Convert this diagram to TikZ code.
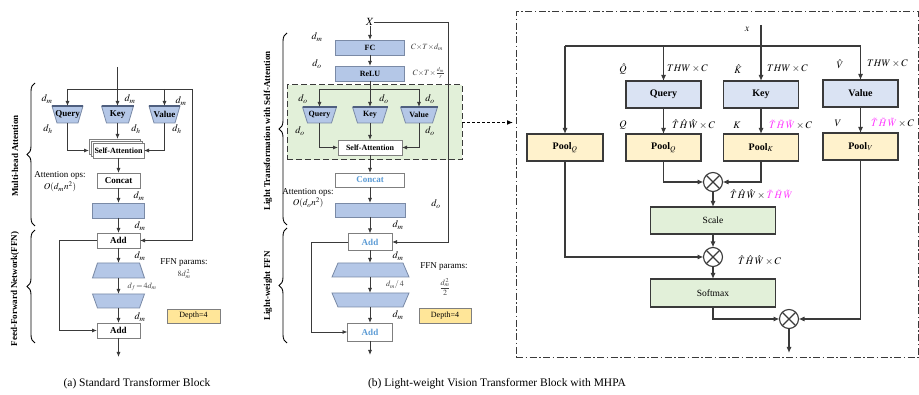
\documentclass[tikz,border=0pt]{standalone}
\usepackage{mathptmx}
\usepackage{fontspec}
\setmainfont{Liberation Serif}
\usetikzlibrary{arrows.meta,calc,decorations.pathreplacing}

\definecolor{lc}{HTML}{3A3A3A}
\definecolor{bluefill}{HTML}{B4C7E7}
\definecolor{blueedge}{HTML}{7A8AA6}
\definecolor{bluetop}{HTML}{4F5F7F}
\definecolor{lav}{HTML}{DAE3F3}
\definecolor{poolfill}{HTML}{FFF2CC}
\definecolor{greenfill}{HTML}{E2F0D9}
\definecolor{depthfill}{HTML}{FFE699}
\definecolor{txtblue}{HTML}{5B9BD5}
\definecolor{mag}{HTML}{FF33FF}
\definecolor{boxedge}{HTML}{7F7F7F}
\definecolor{txtgray}{HTML}{3F3F3F}

% trapezoid narrowing downwards (name, inset)
\newcommand\trapnar[2]{%
  \filldraw[bluebox] (#1.north west) -- (#1.north east) -- ([xshift=-#2pt]#1.south east) -- ([xshift=#2pt]#1.south west) -- cycle;}
% trapezoid widening downwards (name, inset)
\newcommand\trapwid[2]{%
  \filldraw[bluebox] ([xshift=#2pt]#1.north west) -- ([xshift=-#2pt]#1.north east) -- (#1.south east) -- (#1.south west) -- cycle;}
% darker top edge of a projection head
\newcommand\traptop[1]{\draw[bluetop, line width=1.3pt] (#1.north west) -- (#1.north east);}
% pooled / unpooled token grids
\newcommand\hatTHW{\hat{T}\mkern2mu\hat{H}\mkern2mu\hat{W}}
\newcommand\tilTHW{\textcolor{mag}{\tilde{T}\mkern2mu\tilde{H}\mkern2mu\tilde{W}}}

\begin{document}
\begin{tikzpicture}[x=1pt, y=-1pt,
  every node/.style={inner sep=0pt, outer sep=0pt},
  sz/.style 2 args={minimum width=#1pt, minimum height=#2pt},
  ln/.style={draw=lc, line width=0.8pt},
  arr/.style={ln, -{Latex[length=5pt, width=4pt]}},
  ln2/.style={draw=lc, line width=1.1pt},
  arr2/.style={ln2, -{Latex[length=6pt, width=5pt]}},
  wbox/.style={draw=boxedge, fill=white, line width=0.9pt},
  bluebox/.style={draw=blueedge, fill=bluefill, line width=0.8pt},
  depthbox/.style={draw=boxedge, fill=depthfill, line width=0.8pt, font=\fontsize{8}{9}\selectfont},
  greenbox/.style={draw=lc, fill=greenfill, line width=1pt, dash pattern=on 6pt off 3pt},
  framebox/.style={draw=lc, line width=1pt, dash pattern=on 7pt off 2.5pt on 1.5pt off 2.5pt},
  qkv/.style={draw=lc, fill=lav, line width=1.1pt, font=\fontsize{10}{11}\selectfont\bfseries},
  pool/.style={draw=lc, fill=poolfill, line width=1.1pt, font=\fontsize{10}{11}\selectfont\bfseries},
  gbox/.style={draw=lc, fill=greenfill, line width=1.1pt, font=\fontsize{9.5}{11}\selectfont},
  mult/.style={circle, draw=lc, line width=1.1pt, minimum size=19pt,
    path picture={\draw[lc, line width=1.1pt]
      (path picture bounding box.north west) -- (path picture bounding box.south east)
      (path picture bounding box.south west) -- (path picture bounding box.north east);}},
  bl9/.style={font=\fontsize{9}{10}\selectfont\bfseries},
  bl8/.style={font=\fontsize{8}{9}\selectfont\bfseries},
  mlab/.style={font=\fontsize{10}{11}\selectfont},
  slab/.style={font=\fontsize{8}{9}\selectfont, text=txtgray},
  plain9/.style={font=\fontsize{9}{10}\selectfont},
  captxt/.style={font=\fontsize{11.5}{13}\selectfont},
  brc/.style={draw=black, line width=0.9pt, decorate, decoration={brace, amplitude=8pt}},
]
\useasboundingbox (0,0) rectangle (919,395);

% =============== (a) standard transformer block ===============
\coordinate (ain) at (117.5,67);
\coordinate (asplL) at (67.5,89);
\coordinate (asplR) at (192,89);
\node[sz={31}{17}] (aq) at (67.5,114.5) {};
\node[sz={32}{17}] (ak) at (117.5,114.5) {};
\node[sz={31}{17}] (av) at (164.5,114.5) {};
\trapnar{aq}{5}\traptop{aq}
\trapnar{ak}{5}\traptop{ak}
\trapnar{av}{5}\traptop{av}
\node[bl9] (aqt) at (aq) {Query};
\node[bl9] (akt) at (ak) {Key};
\node[bl9] (avt) at (av) {Value};

\node[wbox, sz={51}{15}] (asaB) at (114.5,146.5) {};
\node[wbox, sz={51}{15}] (asaM) at (116.5,148.5) {};
\node[wbox, sz={51}{15}, bl8] (asa) at (118.5,150.5) {Self-Attention};
\node[wbox, sz={43}{15}, bl9] (ac) at (118.5,180.5) {Concat};
\node[bluebox, sz={52}{15}] (al) at (118.5,210.5) {};
\node[wbox, sz={43}{15}, bl9] (aa1) at (118.5,240.5) {Add};
\node[sz={52}{15}] (af1) at (118.5,270.5) {};
\trapwid{af1}{5}
\node[sz={52}{14}] (af2) at (118.5,301) {};
\trapnar{af2}{5}
\node[wbox, sz={43}{15}, bl9] (aa2) at (118.5,330.5) {Add};
\coordinate (aout) at (118.5,357);
\coordinate (aloop) at (59,240.5);

\draw[ln] (asplL) -- (asplR);
\draw[arr] (ain) -- (ak.north);
\draw[arr] (asplL) -- (aq.north);
\draw[arr] (av.north |- asplL) -- (av.north);
\draw[arr] (asplR) |- (aa1.east);
\draw[arr] (aq.south) |- (asa.west -| asaB.west);
\draw[arr] (av.south) |- (asa.east);
\draw[arr] (ak.south) -- (asaB.north -| ak.south);
\draw[arr] (asa.south) -- (ac.north);
\draw[arr] (ac.south) -- (al.north);
\draw[arr] (al.south) -- (aa1.north);
\draw[arr] (aa1.south) -- (af1.north);
\draw[arr] (af1.south) -- (af2.north);
\draw[arr] (af2.south) -- (aa2.north);
\draw[arr] (aa2.south) -- (aout);
\draw[arr] (aa1.west) -- (aloop) |- (aa2.west);

\node[mlab] (la1) at (47,99) {$d_m$};
\node[mlab] (la2) at (130,99) {$d_m$};
\node[mlab] (la3) at (181,101) {$d_m$};
\node[mlab] (la4) at (48,129) {$d_h$};
\node[mlab] (la5) at (136,129) {$d_h$};
\node[mlab] (la6) at (177,129) {$d_h$};
\node[plain9] (la7) at (60,175) {Attention ops:};
\node[plain9] (la8) at (60,187) {$O(d_m n^2)$};
\node[mlab] (la9) at (139,196) {$d_m$};
\node[mlab] (la10) at (140,226) {$d_m$};
\node[mlab] (la11) at (140,256) {$d_m$};
\node[slab] (la12) at (142,287) {$d_f\!=\!4d_m$};
\node[mlab] (la13) at (140,317) {$d_m$};
\node[plain9] (la14) at (184,263) {FFN params:};
\node[slab] (la15) at (184,274) {$8d_m^{\,2}$};
\node[depthbox, sz={53}{14}] (adep) at (193.5,316) {Depth=4};

\draw[brc] (35,226) -- (35,83);
\draw[brc] (35,343) -- (35,230);
\node[bl9, rotate=90] (lma) at (15,156) {Multi-head Attention};
\node[bl9, rotate=90] (lffn) at (15,289) {Feed-Forward Network(FFN)};

% =============== (b) light-weight block ===============
\node[greenbox, sz={175}{75}] (bgrn) at (374.5,122.5) {};
\node[framebox, sz={402}{346}] (cfr) at (717,185) {};

\node[font=\fontsize{11}{12}\selectfont] (bx) at (370,22) {$X$};
\coordinate (bres) at (448,22);
\node[bluebox, sz={69}{15}, bl8] (bfc) at (370,47.5) {FC};
\node[bluebox, sz={69}{15}, bl8] (brl) at (370,73.5) {ReLU};
\coordinate (bsplL) at (319.5,89);
\coordinate (bsplR) at (419,89);
\node[sz={34}{16}] (bq) at (319.5,115) {};
\node[sz={35}{16}] (bk) at (370,115) {};
\node[sz={37}{16}] (bv) at (419,115) {};
\trapnar{bq}{5}\traptop{bq}
\trapnar{bk}{5}\traptop{bk}
\trapnar{bv}{5}\traptop{bv}
\node[bl8] (bqt) at (bq) {Query};
\node[bl8] (bkt) at (bk) {Key};
\node[bl8] (bvt) at (bv) {Value};
\node[wbox, sz={64}{15}, bl8] (bsa) at (370,147.5) {Self-Attention};
\node[wbox, sz={69}{14}, bl9, text=txtblue] (bcc) at (370,180) {Concat};
\node[bluebox, sz={70}{14}] (bl) at (370,210) {};
\node[wbox, sz={44}{17}, bl9, text=txtblue] (ba1) at (370,242) {Add};
\node[sz={77}{14}] (bf1) at (370.5,270) {};
\trapwid{bf1}{6}
\node[sz={77}{14}] (bf2) at (370.5,300) {};
\trapnar{bf2}{6}
\node[wbox, sz={45}{18}, bl9, text=txtblue] (ba2) at (370,332) {Add};
\coordinate (bout) at (370,355);
\coordinate (bloop) at (311,242);

\draw[arr] (bx.south) -- (bfc.north);
\draw[ln] (bx.east) -- (bres);
\draw[arr] (bres) |- (ba1.east);
\draw[arr] (bfc.south) -- (brl.north);
\draw[ln] (bsplL) -- (bsplR);
\draw[arr] (brl.south) -- (bk.north);
\draw[arr] (bsplL) -- (bq.north);
\draw[arr] (bsplR) -- (bv.north);
\draw[arr] (bq.south) |- (bsa.west);
\draw[arr] (bv.south) |- (bsa.east);
\draw[arr] (bk.south) -- (bsa.north);
\draw[arr] (bsa.south) -- (bcc.north);
\draw[arr] (bcc.south) -- (bl.north);
\draw[arr] (bl.south) -- (ba1.north);
\draw[arr] (ba1.south) -- (bf1.north -| ba1.south);
\draw[arr] (bf1.south -| ba1.south) -- (bf2.north -| ba1.south);
\draw[arr] (bf2.south -| ba2.north) -- (ba2.north);
\draw[arr] (ba2.south) -- (bout);
\draw[arr] (ba1.west) -- (bloop) |- (ba2.west);

\node[mlab] (lb1) at (317,37) {$d_m$};
\node[mlab] (lb2) at (317,64) {$d_o$};
\node[slab] (lb3) at (427,47) {$C{\times}T{\times}d_m$};
\node[slab] (lb4) at (429,73) {$C{\times}T{\times}\frac{d_m}{r}$};
\node[mlab] (lb5) at (303,99) {$d_o$};
\node[mlab] (lb6) at (384,99) {$d_o$};
\node[mlab] (lb7) at (430,99) {$d_o$};
\node[mlab] (lb8) at (300,131) {$d_o$};
\node[mlab] (lb9) at (430,131) {$d_o$};
\node[plain9] (lb10) at (308,192) {Attention ops:};
\node[plain9] (lb11) at (308,203) {$O(d_o n^2)$};
\node[mlab] (lb12) at (436,204) {$d_o$};
\node[mlab] (lb13) at (398,225) {$d_m$};
\node[mlab] (lb14) at (398,256) {$d_m$};
\node[slab] (lb15) at (395,285) {$d_m/\,4$};
\node[mlab] (lb16) at (398,315) {$d_m$};
\node[plain9] (lb17) at (444,267) {FFN params:};
\node[slab] (lb18) at (445,287) {$\displaystyle\frac{d_m^{\,2}}{2}$};
\node[depthbox, sz={52}{15}] (bdep) at (445,315.5) {Depth=4};

\draw[brc] (287,225) -- (287,33);
\draw[brc] (287,343) -- (287,228);
\node[bl9, rotate=90] (llt) at (268,131) {Light Transformation with Self-Attention};
\node[bl9, rotate=90] (llf) at (268,286) {Light-weight FFN};

\draw[draw=black, line width=1.6pt, dash pattern=on 3pt off 2pt, -{Latex[length=6pt, width=5pt]}, shorten >=3pt]
  (bgrn.east) -- (bgrn.east -| cfr.west);

% =============== (c) MHPA ===============
\node[mlab] (cx) at (747,29) {$x$};
\coordinate (cin) at (761,25);
\coordinate (cL) at (565,46);
\coordinate (cR) at (860.5,46);
\node[qkv, sz={75}{27}] (cq) at (663.5,94.5) {Query};
\node[qkv, sz={75}{27}] (ck) at (761,94.5) {Key};
\node[qkv, sz={75}{27}] (cv) at (860.5,93.5) {Value};
\node[pool, sz={76}{27}] (cp0) at (565,147.5) {Pool$_{\mathit{Q}}$};
\node[pool, sz={75}{27}] (cp1) at (663.5,147.5) {Pool$_{\mathit{Q}}$};
\node[pool, sz={75}{27}] (cp2) at (761,147.5) {Pool$_{\mathit{K}}$};
\node[pool, sz={75}{27}] (cp3) at (860.5,146.5) {Pool$_{\mathit{V}}$};
\node[mult] (cm1) at (713,182) {};
\node[gbox, sz={125}{27}] (cs) at (713,220.5) {Scale};
\node[mult] (cm2) at (713,257) {};
\node[gbox, sz={125}{28}] (csm) at (713,293) {Softmax};
\node[mult] (cm3) at (789,319) {};
\coordinate (cout) at (789,353);

\draw[ln2] (cL) -- (cR);
\draw[arr2] (cin) -- (ck.north);
\draw[arr2] (cL) -- (cp0.north);
\draw[arr2] (cq.north |- cL) -- (cq.north);
\draw[arr2] (cR) -- (cv.north);
\draw[arr2] (cq.south) -- (cp1.north);
\draw[arr2] (ck.south) -- (cp2.north);
\draw[arr2] (cv.south) -- (cp3.north);
\draw[arr2] (cp1.south) |- (cm1.west);
\draw[arr2] (cp2.south) |- (cm1.east);
\draw[arr2] (cm1.south) -- (cs.north);
\draw[arr2] (cs.south) -- (cm2.north);
\draw[arr2] (cp0.south) |- (cm2.west);
\draw[arr2] (cm2.south) -- (csm.north);
\draw[arr2] (csm.south) |- (cm3.west);
\draw[arr2] (cp3.south) |- (cm3.east);
\draw[arr2] (cm3.south) -- (cout);

\node[mlab] (lc1) at (623,69) {$\hat{Q}$};
\node[mlab, anchor=west] (lc2) at (667,69) {$THW\times C$};
\node[mlab] (lc3) at (738,69) {$\hat{K}$};
\node[mlab, anchor=west] (lc4) at (767,69) {$THW\times C$};
\node[mlab] (lc5) at (840,64) {$\hat{V}$};
\node[mlab, anchor=west] (lc6) at (867,64) {$THW\times C$};
\node[mlab] (lc7) at (623,125) {$Q$};
\node[mlab, anchor=west] (lc8) at (672,125) {$\hatTHW\times C$};
\node[mlab] (lc9) at (737,125) {$K$};
\node[mlab, anchor=west] (lc10) at (769,125) {$\tilTHW\times C$};
\node[mlab] (lc11) at (838,123) {$V$};
\node[mlab, anchor=west] (lc12) at (871,123) {$\tilTHW\times C$};
\node[mlab, anchor=west] (lc13) at (730,195) {$\hatTHW\times\tilTHW$};
\node[mlab, anchor=west] (lc14) at (738,261) {$\hatTHW\times C$};

% =============== captions ===============
\node[captxt] (capa) at (137,384) {(a) Standard Transformer Block};
\node[captxt] (capb) at (497,384) {(b) Light-weight Vision Transformer Block with MHPA};
\end{tikzpicture}
\end{document}
